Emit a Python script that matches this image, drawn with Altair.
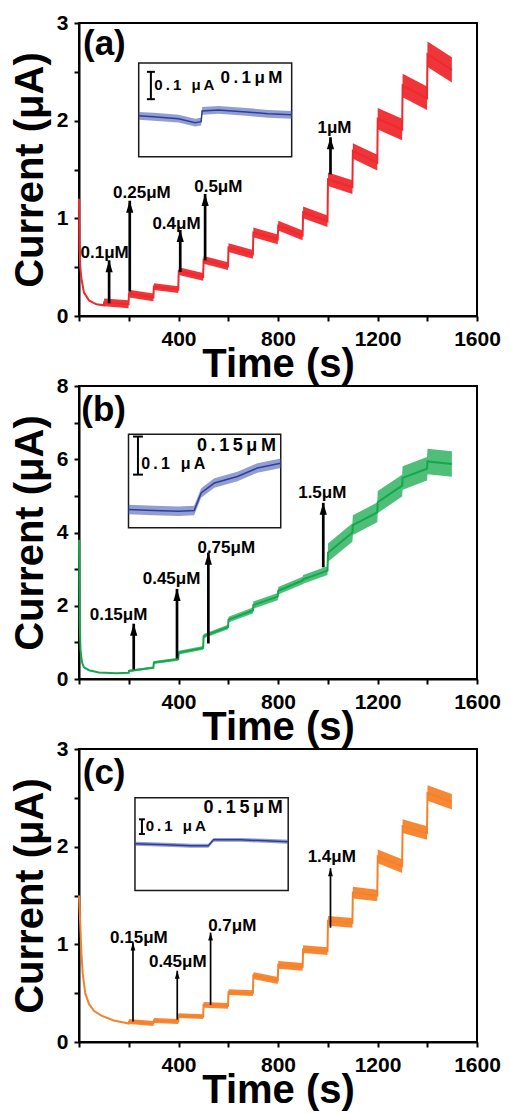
import altair as alt
import pandas as pd

# ---------------- data ----------------
# Panel (a)
A_DECAY_T = [0, 2, 5, 10, 20, 40, 70, 100]
A_DECAY_V = [1.20, 0.70, 0.50, 0.38, 0.24, 0.16, 0.12, 0.11]
A_SEG_T = [100, 200, 300, 400, 500, 600, 700, 800, 900, 1000, 1100, 1200, 1300, 1400]
A_SEG_V0 = [0.14, 0.23, 0.30, 0.46, 0.575, 0.70, 0.855, 0.925, 1.06, 1.40, 1.69, 2.02, 2.36, 2.68]
A_SEG_V1 = [0.12, 0.19, 0.27, 0.40, 0.51, 0.63, 0.785, 0.825, 0.97, 1.32, 1.57, 1.91, 2.23, 2.52]
A_SEG_N = [0.04, 0.04, 0.035, 0.04, 0.04, 0.045, 0.05, 0.05, 0.06, 0.07, 0.08, 0.11, 0.12, 0.13]
A_ARROW_T = [121, 204, 407, 507, 1011]
A_ARROW_Y0 = [0.13, 0.25, 0.45, 0.57, 1.45]
A_ARROW_Y1 = [0.57, 1.18, 0.88, 1.25, 1.83]
A_LABELS = ["0.1μM", "0.25μM", "0.4μM", "0.5μM", "1μM"]
A_LABEL_T = [103, 253, 392, 560, 1027]
A_LABEL_Y = [0.65, 1.26, 0.94, 1.32, 1.93]
A_INSET_BOX = [240, 855, 1.63, 2.59]
A_INSET_T = [240, 300, 400, 467, 491, 495, 560, 673, 760, 855]
A_INSET_V = [2.05, 2.04, 2.02, 1.98, 1.99, 2.10, 2.11, 2.09, 2.07, 2.06]
A_INSET_N = 0.04
A_BAR = [289, 2.22, 2.50]
A_INSET_TEXT = ["0\u2009.\u20091\u2009 \u2009μ\u2009A", "0\u2009.\u20091\u2009μ\u2009M"]
A_INSET_TEXT_T = [303, 569]
A_INSET_TEXT_Y = [2.37, 2.44]

# Panel (b)
B_DECAY_T = [0, 3, 6, 12, 20, 40, 80, 150, 200]
B_DECAY_V = [3.8, 1.5, 0.8, 0.45, 0.32, 0.24, 0.18, 0.16, 0.17]
B_SEG_T = [200, 300, 400, 500, 600, 700, 800, 900, 1000, 1100, 1200, 1300, 1400]
B_SEG_V0 = [0.22, 0.45, 0.72, 1.17, 1.62, 2.02, 2.41, 2.72, 3.45, 4.20, 4.83, 5.49, 5.94]
B_SEG_V1 = [0.31, 0.54, 0.85, 1.42, 1.87, 2.25, 2.69, 2.96, 4.00, 4.55, 5.28, 5.74, 5.87]
B_SEG_N = [0.03, 0.04, 0.05, 0.06, 0.08, 0.10, 0.10, 0.12, 0.25, 0.27, 0.30, 0.32, 0.35]
B_ARROW_T = [220, 394, 520, 982]
B_ARROW_Y0 = [0.26, 0.56, 0.97, 3.05]
B_ARROW_Y1 = [1.51, 2.46, 3.45, 4.81]
B_LABELS = ["0.15μM", "0.45μM", "0.75μM", "1.5μM"]
B_LABEL_T = [159, 372, 592, 978]
B_LABEL_Y = [1.74, 2.73, 3.59, 5.08]
B_INSET_BOX = [199, 811, 4.13, 6.68]
B_INSET_T = [199, 300, 400, 463, 491, 544, 637, 717, 811]
B_INSET_V = [4.63, 4.60, 4.58, 4.60, 5.08, 5.35, 5.53, 5.76, 5.89]
B_INSET_N = 0.13
B_BAR = [237, 5.58, 6.62]
B_INSET_TEXT = ["0\u2009.\u20091\u2009 \u2009μ\u2009A", "0\u2009.\u20091\u20095\u2009μ\u2009M"]
B_INSET_TEXT_T = [250, 474]
B_INSET_TEXT_Y = [5.88, 6.35]

# Panel (c)
C_DECAY_T = [0, 5, 10, 15, 25, 40, 60, 90, 140, 200]
C_DECAY_V = [1.5, 1.2, 0.9, 0.7, 0.5, 0.39, 0.32, 0.27, 0.22, 0.19]
C_SEG_T = [200, 300, 400, 500, 600, 700, 800, 900, 1000, 1100, 1200, 1300, 1400]
C_SEG_V0 = [0.21, 0.22, 0.27, 0.38, 0.51, 0.68, 0.79, 0.95, 1.24, 1.53, 1.90, 2.21, 2.55]
C_SEG_V1 = [0.19, 0.21, 0.26, 0.37, 0.50, 0.63, 0.77, 0.93, 1.22, 1.50, 1.80, 2.14, 2.46]
C_SEG_N = [0.025, 0.025, 0.025, 0.03, 0.03, 0.035, 0.04, 0.04, 0.05, 0.06, 0.07, 0.07, 0.08]
C_ARROW_T = [217, 395, 529, 1011]
C_ARROW_Y0 = [0.21, 0.23, 0.38, 1.17]
C_ARROW_Y1 = [1.02, 0.73, 1.12, 1.78]
C_LABELS = ["0.15μM", "0.45μM", "0.7μM", "1.4μM"]
C_LABEL_T = [241, 397, 616, 1016]
C_LABEL_Y = [1.06, 0.82, 1.19, 1.89]
C_INSET_BOX = [225, 841, 1.55, 2.50]
C_INSET_T = [225, 350, 450, 520, 541, 650, 750, 841]
C_INSET_V = [2.03, 2.02, 2.01, 2.01, 2.07, 2.07, 2.06, 2.05]
C_INSET_N = 0.02
C_BAR = [253, 2.13, 2.28]
C_INSET_TEXT = ["0\u2009.\u20091\u2009 \u2009μ\u2009A", "0\u2009.\u20091\u20095\u2009μ\u2009M"]
C_INSET_TEXT_T = [268, 501]
C_INSET_TEXT_Y = [2.21, 2.40]

PANEL_LETTERS = ["(a)", "(b)", "(c)"]
LETTER_T = [16, 9, 15]
LETTER_Y = [2.78, 7.34, 2.75]

FONT = "Liberation Sans"
PLOT_W = 398
PLOT_H = 293


def trace_frame(decay_t, decay_v, seg_t, v0, v1, noise, seg_len=100):
    rows = []
    for t, v in zip(decay_t, decay_v):
        rows.append(dict(t=t, mid=v, lo=v, hi=v))
    for s, a, b, n in zip(seg_t, v0, v1, noise):
        rows.append(dict(t=s + 1, mid=a, lo=a - n, hi=a + n))
        rows.append(dict(t=s + seg_len - 1, mid=b, lo=b - n, hi=b + n))
    return pd.DataFrame(rows)


def panel(p):
    xs = alt.Scale(domain=[0, 1600], nice=False, zero=False)
    ys = alt.Scale(domain=p["ydom"], nice=False, zero=False)
    xaxis = alt.Axis(
        title="Time (s)",
        values=list(range(0, 1601, 200)),
        labelExpr="datum.value % 400 === 0 && datum.value > 0 ? '' + datum.value : ''",
        labelFlush=False,
        labelOverlap=False,
    )
    yaxis = alt.Axis(
        title="Current (μA)",
        values=p["yvals"],
        labelExpr=p["ylab"],
        labelOverlap=False,
        labelFlush=False,
    )

    def X(f):
        return alt.X(f, type="quantitative", scale=xs, axis=xaxis)

    def Y(f):
        return alt.Y(f, type="quantitative", scale=ys, axis=yaxis)

    tr = trace_frame(*p["trace"])
    inset = pd.DataFrame({"t": p["inset_t"], "mid": p["inset_v"]})
    inset["lo"] = inset["mid"] - p["inset_n"]
    inset["hi"] = inset["mid"] + p["inset_n"]
    box = pd.DataFrame([dict(t0=p["box"][0], t1=p["box"][1], y0=p["box"][2], y1=p["box"][3])])
    bar = pd.DataFrame([dict(t=p["bar"][0], y0=p["bar"][1], y1=p["bar"][2])])
    caps = pd.DataFrame({
        "t0": [p["bar"][0] - p["cap"]] * 2,
        "t1": [p["bar"][0] + p["cap"]] * 2,
        "y": [p["bar"][1], p["bar"][2]],
    })
    itext = pd.DataFrame({"t": p["itext_t"], "y": p["itext_y"], "txt": p["itext"],
                          "fs": p["itext_fs"]})
    arrows = pd.DataFrame({"t": p["arrow_t"], "y0": p["arrow_y0"], "y1": p["arrow_y1"]})
    labels = pd.DataFrame({"t": p["label_t"], "y": p["label_y"], "txt": p["labels"]})
    letter = pd.DataFrame([dict(t=p["letter_t"], y=p["letter_y"], txt=p["letter"])])

    c = p["color"]
    band = alt.Chart(tr).mark_area(color=c, opacity=p["band_op"]).encode(
        x=X("t"), y=Y("lo"), y2=alt.Y2("hi"))
    line = alt.Chart(tr).mark_line(color=c, strokeWidth=2).encode(x=X("t"), y=Y("mid"))
    boxl = alt.Chart(box).mark_rect(fillOpacity=0, stroke="#1a1a1a", strokeWidth=1.5).encode(
        x=X("t0"), x2=alt.X2("t1"), y=Y("y0"), y2=alt.Y2("y1"))
    iband = alt.Chart(inset).mark_area(color="#4a5cb4", opacity=0.6).encode(
        x=X("t"), y=Y("lo"), y2=alt.Y2("hi"))
    iline = alt.Chart(inset).mark_line(color="#2e3f9a", strokeWidth=1.5).encode(
        x=X("t"), y=Y("mid"))
    barl = alt.Chart(bar).mark_rule(color="black", strokeWidth=2).encode(
        x=X("t"), y=Y("y0"), y2=alt.Y2("y1"))
    capl = alt.Chart(caps).mark_rule(color="black", strokeWidth=2).encode(
        x=X("t0"), x2=alt.X2("t1"), y=Y("y"))
    itx = alt.Chart(itext).mark_text(font=FONT, fontWeight="bold", align="left",
                                      baseline="middle", color="black").encode(
        x=X("t"), y=Y("y"), text="txt:N", size=alt.Size("fs:Q", scale=None, legend=None))
    shafts = alt.Chart(arrows).mark_rule(color="black", strokeWidth=p["shaft_w"]).encode(
        x=X("t"), y=Y("y0"), y2=alt.Y2("y1"))
    heads = alt.Chart(arrows).mark_point(
        shape="M0,0L-0.6,2L0.6,2Z", filled=True, size=p["head_size"], color="black",
        opacity=1, strokeWidth=0).encode(x=X("t"), y=Y("y1"))
    labs = alt.Chart(labels).mark_text(font=FONT, fontWeight="bold", fontSize=17,
                                       align="center", baseline="middle", color="black").encode(
        x=X("t"), y=Y("y"), text="txt:N")
    let = alt.Chart(letter).mark_text(font=FONT, fontWeight="bold", fontSize=35,
                                      align="left", baseline="middle", color="black").encode(
        x=X("t"), y=Y("y"), text="txt:N")
    return alt.layer(band, line, boxl, iband, iline, barl, capl, itx, shafts, heads,
                     labs, let).properties(width=PLOT_W, height=PLOT_H)


half_vals = [0, 0.5, 1, 1.5, 2, 2.5, 3]
int_lab = "datum.value % 1 === 0 ? '' + datum.value : ''"
even_lab = "datum.value % 2 === 0 ? '' + datum.value : ''"

pa = panel(dict(
    ydom=[0, 3], yvals=half_vals, ylab=int_lab, color="#ee2a2e", band_op=0.95,
    trace=(A_DECAY_T, A_DECAY_V, A_SEG_T, A_SEG_V0, A_SEG_V1, A_SEG_N),
    inset_t=A_INSET_T, inset_v=A_INSET_V, inset_n=A_INSET_N, box=A_INSET_BOX,
    bar=A_BAR, cap=16, itext=A_INSET_TEXT, itext_t=A_INSET_TEXT_T, itext_y=A_INSET_TEXT_Y,
    itext_fs=[15, 17],
    arrow_t=A_ARROW_T, arrow_y0=A_ARROW_Y0, arrow_y1=A_ARROW_Y1, shaft_w=2.7, head_size=144,
    labels=A_LABELS, label_t=A_LABEL_T, label_y=A_LABEL_Y,
    letter=PANEL_LETTERS[0], letter_t=LETTER_T[0], letter_y=LETTER_Y[0]))

pb = panel(dict(
    ydom=[0, 8], yvals=list(range(0, 9)), ylab=even_lab, color="#14a84c", band_op=0.75,
    trace=(B_DECAY_T, B_DECAY_V, B_SEG_T, B_SEG_V0, B_SEG_V1, B_SEG_N),
    inset_t=B_INSET_T, inset_v=B_INSET_V, inset_n=B_INSET_N, box=B_INSET_BOX,
    bar=B_BAR, cap=20, itext=B_INSET_TEXT, itext_t=B_INSET_TEXT_T, itext_y=B_INSET_TEXT_Y,
    itext_fs=[16, 18],
    arrow_t=B_ARROW_T, arrow_y0=B_ARROW_Y0, arrow_y1=B_ARROW_Y1, shaft_w=2.7, head_size=144,
    labels=B_LABELS, label_t=B_LABEL_T, label_y=B_LABEL_Y,
    letter=PANEL_LETTERS[1], letter_t=LETTER_T[1], letter_y=LETTER_Y[1]))

pc = panel(dict(
    ydom=[0, 3], yvals=half_vals, ylab=int_lab, color="#f5822a", band_op=0.95,
    trace=(C_DECAY_T, C_DECAY_V, C_SEG_T, C_SEG_V0, C_SEG_V1, C_SEG_N),
    inset_t=C_INSET_T, inset_v=C_INSET_V, inset_n=C_INSET_N, box=C_INSET_BOX,
    bar=C_BAR, cap=12, itext=C_INSET_TEXT, itext_t=C_INSET_TEXT_T, itext_y=C_INSET_TEXT_Y,
    itext_fs=[15, 18],
    arrow_t=C_ARROW_T, arrow_y0=C_ARROW_Y0, arrow_y1=C_ARROW_Y1, shaft_w=1.7, head_size=64,
    labels=C_LABELS, label_t=C_LABEL_T, label_y=C_LABEL_Y,
    letter=PANEL_LETTERS[2], letter_t=LETTER_T[2], letter_y=LETTER_Y[2]))

chart = alt.vconcat(pa, pb, pc, spacing=70, bounds="flush").properties(
    padding={"left": 1, "top": 3, "right": 0, "bottom": 0}
).configure_view(stroke="black", strokeWidth=2).configure_axis(
    domainColor="black", domainWidth=2, tickColor="black", tickWidth=2, tickSize=5,
    labelFont=FONT, labelFontSize=21, labelFontWeight="bold", labelColor="black",
    titleFont=FONT, titleFontSize=40, titleFontWeight="bold",
    titleColor="black", grid=False,
).configure_axisX(labelPadding=7, titlePadding=-5).configure_axisY(
    labelPadding=6, titlePadding=6)

chart.save("out.html", embed_options={"renderer": "svg", "actions": False})
